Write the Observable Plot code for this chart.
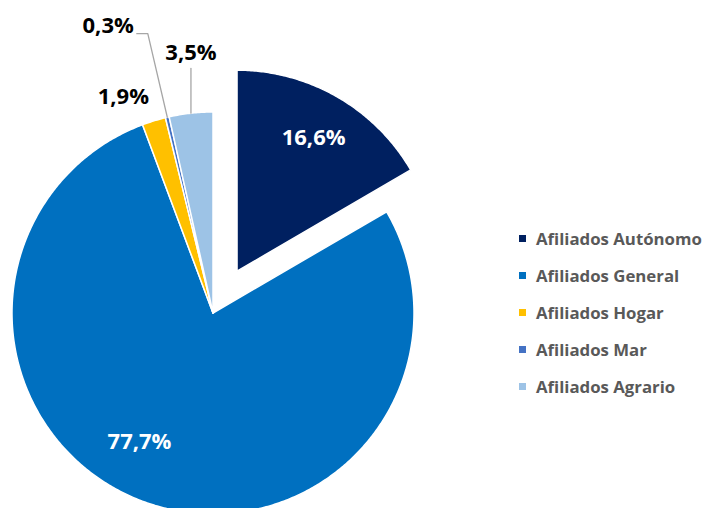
<!DOCTYPE html>
<html>
<head>
<meta charset="utf-8">
<script src="https://cdn.jsdelivr.net/npm/d3@7"></script>
<script src="https://cdn.jsdelivr.net/npm/@observablehq/plot@0.6"></script>
<style>
  html, body { margin: 0; padding: 0; background: #fff; }
  #wrap { position: relative; width: 702px; height: 508px; overflow: hidden; font-family: "Open Sans", sans-serif; }
  #legend { position: absolute; left: 519px; top: 219.5px; }
  .item { display: flex; align-items: center; height: 37px; font-weight: 700; font-size: 16.8px; color: #595959; white-space: nowrap; }
  .sw { width: 7px; height: 7px; margin-right: 10px; flex: none; }
</style>
</head>
<body>
<div id="wrap"><div id="chart"></div><div id="legend"></div></div>
<script>
// ---- data ----
const categories = ["Afiliados Autónomo", "Afiliados General", "Afiliados Hogar", "Afiliados Mar", "Afiliados Agrario"];
const shares = [16.6, 77.7, 1.9, 0.3, 3.5];
const labels = ["16,6%", "77,7%", "1,9%", "0,3%", "3,5%"];
const colors = ["#002060", "#0070C0", "#FFC000", "#4472C4", "#9DC3E6"];

// ---- layout (pixels) ----
const W = 702, H = 508, CX = 212.5, CY = 312.5, R = 201;
const explode = [0.24, 0, 0, 0, 0];

const total = d3.sum(shares);
let cum = 0;
const slices = categories.map((c, i) => {
  const a0 = cum / total * 2 * Math.PI;
  cum += shares[i];
  const a1 = cum / total * 2 * Math.PI;
  const mid = (a0 + a1) / 2;
  const ox = explode[i] * Math.sin(mid), oy = explode[i] * Math.cos(mid);
  return {cat: c, i, a0, a1, mid, ox, oy};
});

// polygon points for each slice (apex + arc)
const pts = [];
for (const s of slices) {
  pts.push({cat: s.cat, x: s.ox, y: s.oy});
  const n = Math.max(2, Math.ceil((s.a1 - s.a0) / (Math.PI / 360)));
  for (let k = 0; k <= n; k++) {
    const a = s.a0 + (s.a1 - s.a0) * k / n;
    pts.push({cat: s.cat, x: s.ox + Math.sin(a), y: s.oy + Math.cos(a)});
  }
  pts.push({cat: s.cat, x: s.ox, y: s.oy});
}

const polar = (a, r, s) => ({x: s.ox + r * Math.sin(a), y: s.oy + r * Math.cos(a)});
const deg = Math.PI / 180;

// inside labels
const inside = [
  {...polar(slices[0].mid, 0.765, slices[0]), text: labels[0]},
  {...polar(slices[1].mid + 10 * deg, 0.74, slices[1]), text: labels[1]}
];
// outside labels
const hog = polar(slices[2].mid - 5.4 * deg, 1.165, slices[2]);
const marA = polar(slices[3].mid, 1.0, slices[3]);
const marB = polar(slices[3].mid, 1.427, slices[3]);
const marC = {x: marB.x - 11 / R, y: marB.y};
const agrA = polar(slices[4].mid, 1.0, slices[4]);
const agrB = {x: agrA.x, y: (CY - 68) / R};
const outsideMid = [
  {x: hog.x, y: hog.y, text: labels[2]},
  {x: agrB.x, y: agrB.y + 16 / R, text: labels[4]}
];
const outsideEnd = [
  {x: marC.x - 3 / R, y: marC.y + 8 / R, text: labels[3]}
];
const leaders = [
  {x: marA.x, y: marA.y, g: 0}, {x: marB.x, y: marB.y, g: 0}, {x: marC.x, y: marC.y, g: 0},
  {x: agrA.x, y: agrA.y, g: 1}, {x: agrB.x, y: agrB.y, g: 1}
];

const chart = Plot.plot({
  width: W, height: H,
  margin: 0,
  x: {domain: [-CX / R, (W - CX) / R], axis: null},
  y: {domain: [-(H - CY) / R, CY / R], axis: null},
  color: {domain: categories, range: colors},
  style: {fontFamily: "'Open Sans', sans-serif", background: "white"},
  marks: [
    Plot.line(pts, {x: "x", y: "y", z: "cat", fill: "cat", stroke: "white", strokeWidth: 1.5, strokeLinejoin: "round"}),
    Plot.line(leaders, {x: "x", y: "y", z: "g", stroke: "#A6A6A6", strokeWidth: 1.3}),
    Plot.text(inside, {x: "x", y: "y", text: "text", fill: "white", fontSize: 22, fontWeight: "bold"}),
    Plot.text(outsideMid, {x: "x", y: "y", text: "text", fill: "black", fontSize: 22, fontWeight: "bold"}),
    Plot.text(outsideEnd, {x: "x", y: "y", text: "text", fill: "black", fontSize: 22, fontWeight: "bold", textAnchor: "end"})
  ]
});
document.getElementById("chart").appendChild(chart);

const legend = document.getElementById("legend");
categories.forEach((c, i) => {
  const row = document.createElement("div");
  row.className = "item";
  const sw = document.createElement("span");
  sw.className = "sw";
  sw.style.background = colors[i];
  const t = document.createElement("span");
  t.textContent = c;
  row.appendChild(sw); row.appendChild(t);
  legend.appendChild(row);
});
</script>
</body>
</html>
